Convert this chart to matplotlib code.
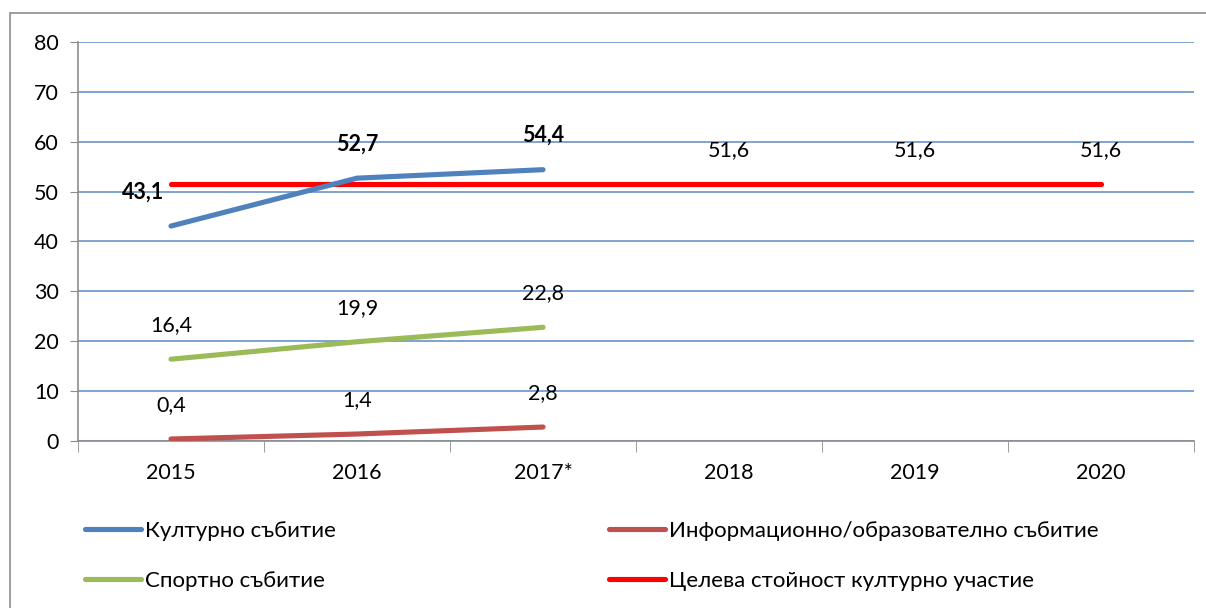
import matplotlib.pyplot as plt
from matplotlib.patches import Rectangle

years = ['2015', '2016', '2017*', '2018', '2019', '2020']
cultural = [43.1, 52.7, 54.4]
info_edu = [0.4, 1.4, 2.8]
sport = [16.4, 19.9, 22.8]
target = [51.6, 51.6, 51.6, 51.6, 51.6, 51.6]

series_names = ['Културно събитие', 'Информационно/образователно събитие',
                'Спортно събитие', 'Целева стойност културно участие']

plt.rcParams['font.family'] = ['Lato', 'DejaVu Sans']

fig = plt.figure(figsize=(12.06, 6.08), dpi=100)
ax = fig.add_axes([78 / 1206, 1 - 441 / 608, 1116 / 1206, 399 / 608])

# outer chart border (top part of the frame)
fig.patches.append(Rectangle((10 / 1206, -0.1), 1.2, 1.1 - 13 / 608,
                             transform=fig.transFigure, fill=False,
                             edgecolor='#8c8c8c', linewidth=1.2))

x_all = list(range(len(years)))
lw = 3.7
l1, = ax.plot(x_all[:3], cultural, color='#4F81BD', lw=lw, solid_capstyle='round', zorder=3)
l2, = ax.plot(x_all[:3], info_edu, color='#C0504D', lw=lw, solid_capstyle='round', zorder=3)
l3, = ax.plot(x_all[:3], sport, color='#9BBB59', lw=lw, solid_capstyle='round', zorder=3)
l4, = ax.plot(x_all, target, color='#FF0000', lw=lw, solid_capstyle='round', zorder=2)

fs = 15.5
for i, v in enumerate(cultural):
    dx = -28 if i == 0 else 0
    ax.annotate(f'{v:.1f}'.replace('.', ','), (i, v), xytext=(dx, 34),
                textcoords='offset pixels', ha='center', va='center',
                fontsize=fs, fontweight='bold')
for vals in (info_edu, sport):
    for i, v in enumerate(vals):
        ax.annotate(f'{v:.1f}'.replace('.', ','), (i, v), xytext=(0, 34),
                    textcoords='offset pixels', ha='center', va='center', fontsize=fs)
for i in range(3, 6):
    ax.annotate(f'{target[i]:.1f}'.replace('.', ','), (i, target[i]), xytext=(0, 34),
                textcoords='offset pixels', ha='center', va='center', fontsize=fs)

ax.set_xlim(-0.5, 5.5)
ax.set_ylim(0, 80)
ax.set_yticks(range(0, 81, 10))
ax.set_xticks(x_all)
ax.set_xticklabels(years)
ax.set_xticks([i + 0.5 for i in range(-1, 6)], minor=True)
ax.tick_params(axis='x', which='major', length=0, labelsize=fs, pad=16)
ax.tick_params(axis='x', which='minor', length=8, color='#8c8c8c', direction='out')
ax.tick_params(axis='y', length=6, color='#8c8c8c', labelsize=fs, pad=8)

ax.grid(axis='y', color='#5B8AC6', linewidth=1.1)
ax.set_axisbelow(True)
for s in ['top', 'right']:
    ax.spines[s].set_visible(False)
ax.spines['left'].set_color('#8c8c8c')
ax.spines['bottom'].set_color('#8c8c8c')
ax.spines['left'].set_linewidth(1.2)
ax.spines['bottom'].set_linewidth(1.2)

# row-wise legend order: matplotlib fills columns first
fig.legend([l1, l3, l2, l4],
           [series_names[0], series_names[2], series_names[1], series_names[3]],
           ncol=2, loc='upper left',
           bbox_to_anchor=(65 / 1206, 1 - 501 / 608), frameon=False,
           fontsize=16, handlelength=2.5, handletextpad=0.2,
           columnspacing=12.3, labelspacing=1.33)

fig.savefig('out.png', dpi=100)
